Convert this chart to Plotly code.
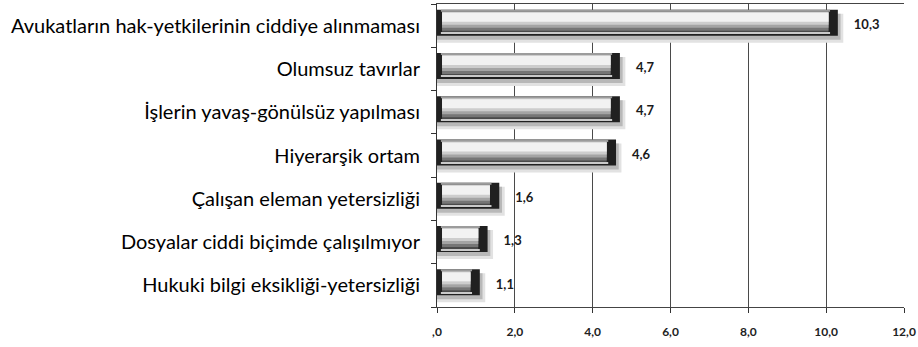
import plotly.graph_objects as go

categories = [
    "Avukatların hak-yetkilerinin ciddiye alınmaması",
    "Olumsuz tavırlar",
    "İşlerin yavaş-gönülsüz yapılması",
    "Hiyerarşik ortam",
    "Çalışan eleman yetersizliği",
    "Dosyalar ciddi biçimde çalışılmıyor",
    "Hukuki bilgi eksikliği-yetersizliği",
]
values = [10.3, 4.7, 4.7, 4.6, 1.6, 1.3, 1.1]
value_labels = ["10,3", "4,7", "4,7", "4,6", "1,6", "1,3", "1,1"]
tick_vals = [0, 2, 4, 6, 8, 10, 12]
tick_text = [",0", "2,0", "4,0", "6,0", "8,0", "10,0", "12,0"]

# bar styling layers, in pixels relative to the category centre (positive = downward):
# (top px, bottom px, colour, left inset, right inset, extra length)
CAT_PX = 43.3
layers = [
    (-12, 17, "#e2e2e2", 0.00, 0.00, 0.14),   # soft shadow
    (-12, 14, "#b8b8b8", 0.00, 0.00, 0.07),   # shadow core
    (-16, 10, "#202020", 0.00, 0.00, 0.00),   # dark body / bevel ends
    (-16, -14, "#9c9c9c", 0.10, 0.20, 0.00),  # top edge
    (-14, 8, "#4a4a4a", 0.13, 0.24, 0.00),    # dark lower part
    (-14, 5, "#767676", 0.13, 0.24, 0.00),
    (-14, 2, "#a4a4a4", 0.13, 0.24, 0.00),
    (-14, -1, "#cdcdcd", 0.13, 0.24, 0.00),
    (-13, -4, "#f2f2f2", 0.13, 0.24, 0.00),   # bright top
    (7, 8, "#cacaca", 0.10, 0.20, 0.00),      # bottom highlight line
]

fig = go.Figure()
for top, bot, col, lin, rin, extra in layers:
    w = (bot - top) / CAT_PX
    off = -bot / CAT_PX          # y axis increases upward
    fig.add_trace(go.Bar(
        y=categories,
        x=[v - lin - rin + extra for v in values],
        base=[lin] * len(values),
        orientation="h", width=w, offset=off,
        marker=dict(color=col, line=dict(width=0)),
        hoverinfo="skip"))

# value labels
fig.add_trace(go.Scatter(y=categories, x=values, mode="markers+text", text=value_labels,
                         textposition="middle right",
                         marker=dict(size=24, color="rgba(0,0,0,0)"),
                         textfont=dict(family="Lato", size=13, color="#1a1a1a", weight="bold"),
                         hoverinfo="skip", cliponaxis=False))

fig.update_layout(
    width=918, height=347,
    margin=dict(l=437, r=14, t=4, b=40),
    barmode="overlay",
    showlegend=False,
    plot_bgcolor="white", paper_bgcolor="white",
    font=dict(family="Lato", color="#111111"),
)
fig.update_xaxes(range=[0, 12], tickvals=tick_vals, ticktext=tick_text,
                 showgrid=True, gridcolor="#4a4a4a", gridwidth=1,
                 showline=True, linecolor="#444444", linewidth=1, mirror=True,
                 ticks="outside", ticklen=5, tickcolor="#333333",
                 ticklabelstandoff=9,
                 tickfont=dict(family="Lato", size=12, color="#222222", weight="bold"),
                 zeroline=False, fixedrange=True, automargin=False)
fig.update_yaxes(categoryorder="array", categoryarray=categories[::-1],
                 range=[-0.5, len(categories) - 0.5],
                 showline=True, linecolor="#333333", linewidth=1,
                 ticks="outside", ticklen=5, tickcolor="#333333", tickson="boundaries",
                 tickfont=dict(family="Lato", size=20, color="#000000"),
                 ticklabelstandoff=12, showgrid=False, fixedrange=True, automargin=False)

fig.write_html("out.html", config={"displayModeBar": False},
               post_script="document.body.style.margin='0';")
